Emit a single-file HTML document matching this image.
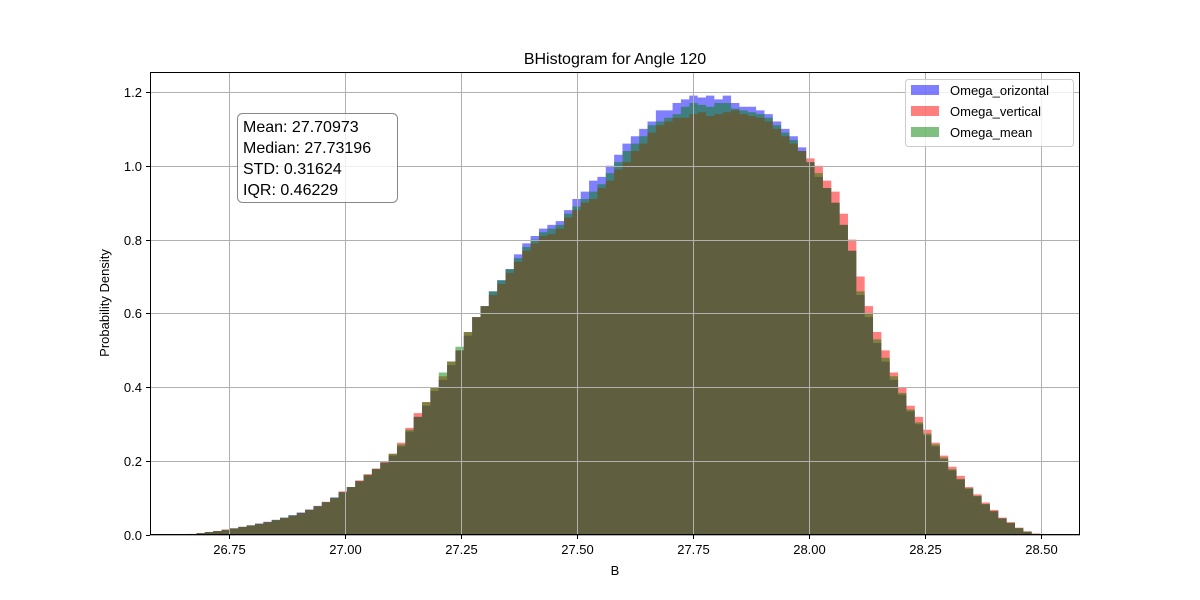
<!DOCTYPE html>
<html><head><meta charset="utf-8"><style>
body{margin:0;background:#fff;}
svg{display:block;font-family:"Liberation Sans","DejaVu Sans",sans-serif;}
</style></head><body>
<svg id="chart" width="1200" height="600" viewBox="0 0 1200 600">
<rect x="0" y="0" width="1200" height="600" fill="#fff"/>
<text x="615" y="64" font-size="16" text-anchor="middle">BHistogram for Angle 120</text>
<g id="bars"></g>
<g id="grid"></g>
<rect x="150.5" y="72.5" width="929" height="462" fill="none" stroke="#000" stroke-width="1"/>
<g id="ticks"></g>
<text x="615" y="575" font-size="13" text-anchor="middle">B</text>
<text x="109" y="303" font-size="13" text-anchor="middle" transform="rotate(-90 109 303)">Probability Density</text>
<g>
<rect x="237.5" y="113.5" width="160" height="89" rx="5" fill="#fff" fill-opacity="0.8" stroke="#888"/>
<text x="243" y="132" font-size="16">Mean: 27.70973</text>
<text x="243" y="153" font-size="16">Median: 27.73196</text>
<text x="243" y="174" font-size="16">STD: 0.31624</text>
<text x="243" y="195" font-size="16">IQR: 0.46229</text>
</g>
<g>
<rect x="905.5" y="79.5" width="168" height="67" rx="3" fill="#fff" fill-opacity="0.8" stroke="#ccc"/>
<rect x="911" y="85" width="28" height="10" fill="rgba(0,0,255,0.5)"/>
<text x="950" y="95" font-size="13">Omega_orizontal</text>
<rect x="911" y="106" width="28" height="10" fill="rgba(255,0,0,0.5)"/>
<text x="950" y="116" font-size="13">Omega_vertical</text>
<rect x="911" y="127" width="28" height="10" fill="rgba(0,128,0,0.5)"/>
<text x="950" y="137" font-size="13">Omega_mean</text>
</g>
</svg>
<script>
const binStart = 26.662;
const binWidth = 0.018;
const xTicks = [26.75,27.00,27.25,27.50,27.75,28.00,28.25,28.50];
const xTickLabels = ["26.75","27.00","27.25","27.50","27.75","28.00","28.25","28.50"];
const yTicks = [0,0.2,0.4,0.6,0.8,1.0,1.2];
const yTickLabels = ["0.0","0.2","0.4","0.6","0.8","1.0","1.2"];
const redVals = [0.003,0.005,0.008,0.011,0.015,0.018,0.022,0.026,0.030,0.035,
0.040,0.046,0.052,0.060,0.068,0.078,0.090,0.100,0.118,0.130,
0.148,0.165,0.180,0.198,0.22,0.25,0.29,0.33,0.36,0.40,
0.43,0.47,0.50,0.55,0.59,0.62,0.65,0.68,0.71,0.74,
0.77,0.79,0.81,0.815,0.83,0.86,0.88,0.90,0.91,0.94,
0.96,0.99,1.01,1.04,1.06,1.09,1.11,1.12,1.13,1.13,
1.14,1.145,1.135,1.14,1.145,1.15,1.14,1.135,1.13,1.12,
1.10,1.08,1.06,1.04,1.02,1.00,0.96,0.93,0.87,0.80,
0.70,0.62,0.55,0.50,0.44,0.40,0.35,0.32,0.285,0.25,
0.215,0.185,0.16,0.13,0.11,0.088,0.068,0.047,0.035,0.02,0.01,0.004];
const blueVals = [0.002,0.005,0.008,0.011,0.014,0.018,0.022,0.026,0.031,0.036,
0.041,0.047,0.054,0.061,0.069,0.079,0.089,0.102,0.116,0.130,
0.146,0.162,0.178,0.196,0.215,0.24,0.28,0.32,0.35,0.39,
0.42,0.46,0.50,0.54,0.59,0.62,0.66,0.69,0.72,0.76,
0.79,0.81,0.83,0.84,0.85,0.88,0.91,0.93,0.96,0.97,
1.00,1.03,1.06,1.08,1.10,1.12,1.15,1.15,1.17,1.18,
1.19,1.185,1.19,1.18,1.19,1.17,1.16,1.16,1.15,1.14,
1.12,1.10,1.08,1.05,1.01,0.97,0.94,0.90,0.84,0.77,
0.65,0.59,0.52,0.47,0.42,0.38,0.335,0.30,0.27,0.24,
0.205,0.175,0.15,0.125,0.105,0.083,0.064,0.045,0.032,0.018,0.008,0.002];
const greenVals = [0.002,0.005,0.008,0.011,0.014,0.018,0.022,0.026,0.030,0.035,
0.041,0.047,0.053,0.060,0.068,0.078,0.089,0.101,0.116,0.130,
0.146,0.163,0.179,0.196,0.22,0.245,0.285,0.32,0.36,0.40,
0.44,0.47,0.51,0.55,0.59,0.62,0.66,0.69,0.72,0.75,
0.78,0.80,0.82,0.83,0.84,0.87,0.89,0.91,0.93,0.95,
0.98,1.01,1.04,1.06,1.08,1.11,1.12,1.13,1.14,1.16,
1.17,1.165,1.16,1.17,1.17,1.155,1.15,1.145,1.14,1.13,
1.11,1.09,1.07,1.04,1.01,0.98,0.94,0.90,0.84,0.77,
0.66,0.60,0.53,0.48,0.43,0.385,0.34,0.305,0.275,0.245,
0.21,0.178,0.152,0.127,0.106,0.084,0.065,0.045,0.033,0.019,0.009,0.003];
const NS='http://www.w3.org/2000/svg';
function xs(v){return 229+(v-26.75)*464;}
function ys(v){return 535-v*369.2;}
const bars=document.getElementById('bars');
function drawSeries(vals,color,name){
  let d='M'+xs(binStart)+',535';
  vals.forEach((v,i)=>{
    const x0=xs(binStart+i*binWidth), x1=xs(binStart+(i+1)*binWidth);
    d+=' L'+x0+','+ys(v)+' L'+x1+','+ys(v);
  });
  d+=' L'+xs(binStart+vals.length*binWidth)+',535 Z';
  const p=document.createElementNS(NS,'path');
  
  
  p.setAttribute('d',d);
  p.setAttribute('fill',color);
  bars.appendChild(p);
}
drawSeries(blueVals,'rgba(0,0,255,0.5)','omega-horizontal-series');
drawSeries(redVals,'rgba(255,0,0,0.5)','omega-vertical-series');
drawSeries(greenVals,'rgba(0,128,0,0.5)','omega-mean-series');
const grid=document.getElementById('grid'), ticks=document.getElementById('ticks');
function el(tag,attrs,parent){const e=document.createElementNS(NS,tag);for(const k in attrs)e.setAttribute(k,attrs[k]);parent.appendChild(e);return e;}
xTicks.forEach((t,i)=>{
  const x=Math.round(xs(t))+0.5;
  const gl=el('line',{x1:x,x2:x,y1:72,y2:535,stroke:'#b0b0b0','stroke-width':1},grid);
  
  
  el('line',{x1:x,x2:x,y1:535,y2:539,stroke:'#000'},ticks);
  const tx=el('text',{x:x,y:554,'font-size':13,'text-anchor':'middle'},ticks);
  
  
  tx.textContent=xTickLabels[i];
});
yTicks.forEach((t,i)=>{
  const y=Math.round(ys(t))+0.5;
  const gl=el('line',{x1:150,x2:1080,y1:y,y2:y,stroke:'#b0b0b0','stroke-width':1},grid);
  
  
  el('line',{x1:146,x2:150,y1:y,y2:y,stroke:'#000'},ticks);
  const tx=el('text',{x:142,y:y+4.5,'font-size':13,'text-anchor':'end'},ticks);
  
  
  tx.textContent=yTickLabels[i];
});
</script>
</body></html>
